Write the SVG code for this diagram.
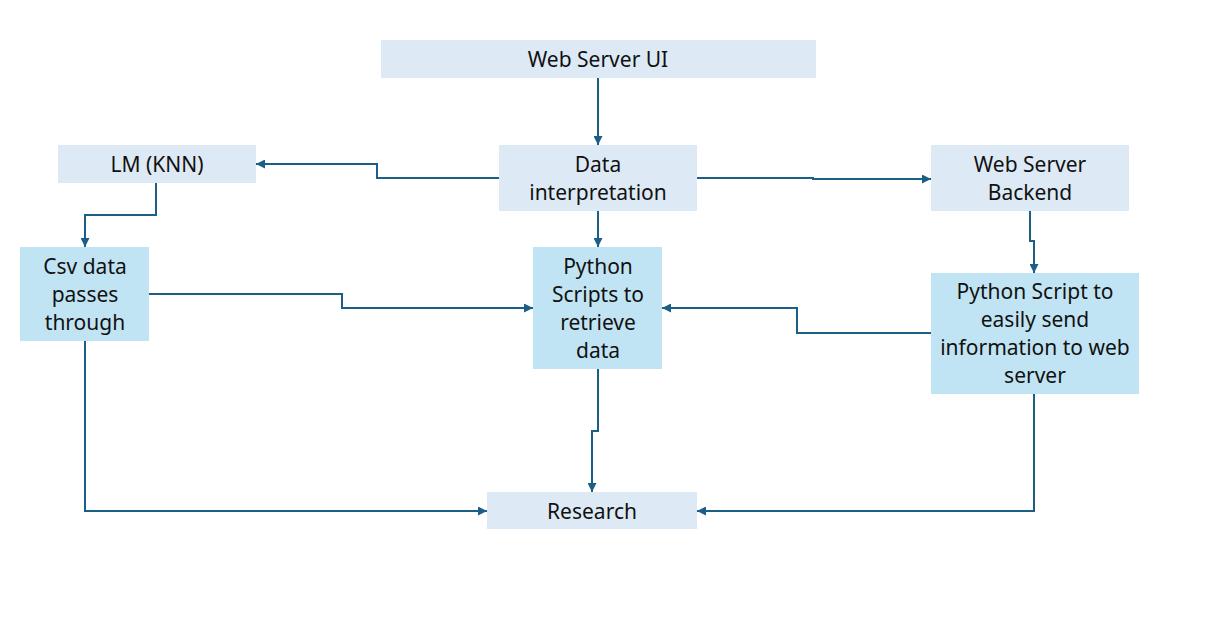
<svg xmlns="http://www.w3.org/2000/svg" width="1212" height="625" viewBox="0 0 1212 625">
<style>
.lt{fill:#DDEAF6}
.dk{fill:#C1E4F5}
.t{font-family:"Noto Sans","Liberation Sans",sans-serif;font-size:21px;fill:#111;text-anchor:middle;dominant-baseline:central}
.c{fill:none;stroke:#1B5F86;stroke-width:2}
</style>
<defs>
<marker id="a" viewBox="0 0 10 10" refX="10" refY="5" markerWidth="4.5" markerHeight="4.5" orient="auto" markerUnits="strokeWidth">
<path d="M0,0 L10,5 L0,10 z" fill="#1B5F86"/>
</marker>
</defs>
<rect width="1212" height="625" fill="#fff"/>
<g id="connectors">
<path class="c" d="M598,78 V145" marker-end="url(#a)"/>
<path class="c" d="M499,178 H377 V164 H256" marker-end="url(#a)"/>
<path class="c" d="M697,178 H813 V179 H931" marker-end="url(#a)"/>
<path class="c" d="M598,211 V247" marker-end="url(#a)"/>
<path class="c" d="M156,183 V215 H85 V247" marker-end="url(#a)"/>
<path class="c" d="M149,294 H342 V308 H533" marker-end="url(#a)"/>
<path class="c" d="M1030,211 V241 H1034 V273" marker-end="url(#a)"/>
<path class="c" d="M931,333 H797 V308 H662" marker-end="url(#a)"/>
<path class="c" d="M598,369 V431 H592 V492" marker-end="url(#a)"/>
<path class="c" d="M85,341 V511 H487" marker-end="url(#a)"/>
<path class="c" d="M1034,394 V511 H697" marker-end="url(#a)"/>
</g>
<g id="web-server-ui">
<rect class="lt" x="381" y="40" width="435" height="38"/>
<text class="t" x="598" y="59">Web Server UI</text>
</g>
<g id="data-interpretation">
<rect class="lt" x="499" y="145" width="198" height="66"/>
<text class="t" x="598" y="164">Data</text>
<text class="t" x="598" y="192">interpretation</text>
</g>
<g id="lm-knn">
<rect class="lt" x="58" y="145" width="198" height="38"/>
<text class="t" x="157" y="164">LM (KNN)</text>
</g>
<g id="web-server-backend">
<rect class="lt" x="931" y="145" width="198" height="66"/>
<text class="t" x="1030" y="164">Web Server</text>
<text class="t" x="1030" y="192">Backend</text>
</g>
<g id="csv-data">
<rect class="dk" x="20" y="247" width="129" height="94"/>
<text class="t" x="85" y="266">Csv data</text>
<text class="t" x="85" y="294">passes</text>
<text class="t" x="85" y="322">through</text>
</g>
<g id="python-scripts">
<rect class="dk" x="533" y="247" width="129" height="122"/>
<text class="t" x="598" y="266">Python</text>
<text class="t" x="598" y="294">Scripts to</text>
<text class="t" x="598" y="322">retrieve</text>
<text class="t" x="598" y="350">data</text>
</g>
<g id="python-script-send">
<rect class="dk" x="931" y="273" width="208" height="121"/>
<text class="t" x="1035" y="291">Python Script to</text>
<text class="t" x="1035" y="319">easily send</text>
<text class="t" x="1035" y="347">information to web</text>
<text class="t" x="1035" y="375">server</text>
</g>
<g id="research">
<rect class="lt" x="487" y="492" width="210" height="37"/>
<text class="t" x="592" y="511">Research</text>
</g>
</svg>
